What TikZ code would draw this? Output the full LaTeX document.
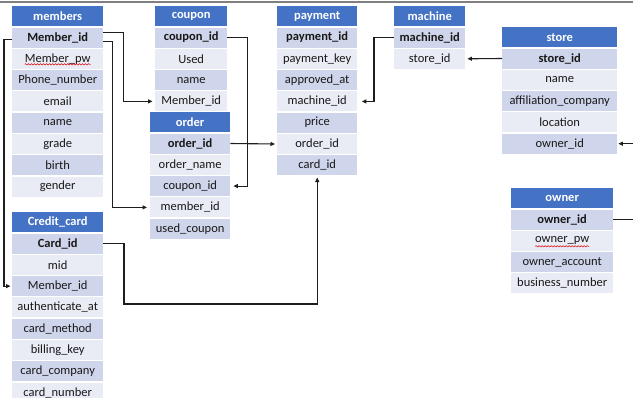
\documentclass[tikz,border=0pt]{standalone}
\usepackage{fontspec}
\setmainfont{Carlito}
\usetikzlibrary{arrows.meta,decorations.pathmorphing}

\definecolor{hdrblue}{HTML}{4472C4}
\definecolor{rowdark}{HTML}{CFD5EA}
\definecolor{rowlight}{HTML}{E9EBF5}
\definecolor{linkdark}{HTML}{1E1E1E}
\definecolor{framegray}{HTML}{7F7F7F}

\tikzset{
  hdr/.style={fill=hdrblue, text=white, inner sep=0pt, minimum height=20pt,
    anchor=north west, font=\fontsize{12.5}{14}\selectfont\bfseries},
  cell/.style={inner sep=0pt, minimum height=20pt, anchor=north west,
    text=black!90, font=\fontsize{12.5}{14}\selectfont},
  link/.style={draw=linkdark, line width=1.1pt},
  fk/.style={link, -{Triangle[length=4.5pt,width=4pt]}},
  wavy/.style={draw=red!85!black, line width=0.5pt,
    decorate, decoration={snake, segment length=3pt, amplitude=0.7pt}}
}

% \erdtable{name}{left x}{top y}{width}{title}{rows}
\newcommand\erdtable[6]{%
  \node[hdr, minimum width=#4pt] (#1-0) at (#2,#3) {#5};
  \foreach \txt [count=\i] in {#6} {
    \pgfmathsetmacro\rowtop{#3+21.3*\i}
    \ifodd\i \def\rowfill{rowdark}\else\def\rowfill{rowlight}\fi
    \ifnum\i=1 \def\rowfont{\bfseries}\else\def\rowfont{}\fi
    \node[cell, fill=\rowfill, minimum width=#4pt] (#1-\i) at (#2,\rowtop) {\rowfont\txt};
  }%
}

\begin{document}
\begin{tikzpicture}[x=1pt, y=-1pt]
  \useasboundingbox (0,0) rectangle (633,397);
  \clip (0,0) rectangle (633,397);
  \fill[white] (0,0) rectangle (633,397);
  \draw[framegray, line width=1.2pt] (0,2) -- (633,2);

  \erdtable{members}{12}{6}{91}{members}{Member\_id, Member\_pw, Phone\_number, email, name, grade, birth, gender}
  \erdtable{coupon}{155}{6}{72}{coupon}{coupon\_id, Used, name, Member\_id}
  \erdtable{order}{150}{112}{80}{order}{order\_id, order\_name, coupon\_id, member\_id, used\_coupon}
  \erdtable{payment}{277}{6}{80}{payment}{payment\_id, payment\_key, approved\_at, machine\_id, price, order\_id, card\_id}
  \erdtable{machine}{394}{6}{71}{machine}{machine\_id, store\_id}
  \erdtable{store}{502}{27}{115}{store}{store\_id, name, affiliation\_company, location, owner\_id}
  \erdtable{owner}{511}{188}{102}{owner}{owner\_id, owner\_pw, owner\_account, business\_number}
  \erdtable{credit}{12}{212}{91}{Credit\_card}{Card\_id, mid, Member\_id, authenticate\_at, card\_method, billing\_key, card\_company, card\_number}

  % spell-check squiggles
  \draw[wavy] ([xshift=-33pt,yshift=-5.5pt]members-2.center) -- ([xshift=33pt,yshift=-5.5pt]members-2.center);
  \draw[wavy] ([xshift=-27pt,yshift=-5.5pt]owner-2.center) -- ([xshift=27pt,yshift=-5.5pt]owner-2.center);

  % foreign keys
  \draw[fk, shorten >=2.5pt] ([yshift=5pt]members-1.east) -- ++(20,0) |- (coupon-4.west);
  \draw[fk, shorten >=3pt] ([yshift=-4pt]members-1.east) -- ++(9,0) |- (order-4.west);
  \draw[fk, shorten >=1.5pt] ([yshift=-2pt]members-1.west) -- ++(-8,0) |- (credit-3.west);
  \draw[fk, shorten >=3pt] (coupon-1.east) -- ++(20,0) |- (order-3.east);
  \draw[fk, shorten >=2pt] (order-1.east) -- (payment-6.west);
  \coordinate (cardbend) at (124,304);
  \draw[fk, shorten >=2pt] (credit-1.east) -| (cardbend) -| (payment-7.south);
  \draw[fk, shorten >=4.5pt] (machine-1.west) -- ++(-20,0) |- (payment-4.east);
  \draw[fk, shorten >=2pt] (store-1.west) -- (machine-2.east);
  \draw[fk, shorten >=1pt] (owner-1.east) -- ++(30,0) |- (store-5.east);
\end{tikzpicture}
\end{document}
